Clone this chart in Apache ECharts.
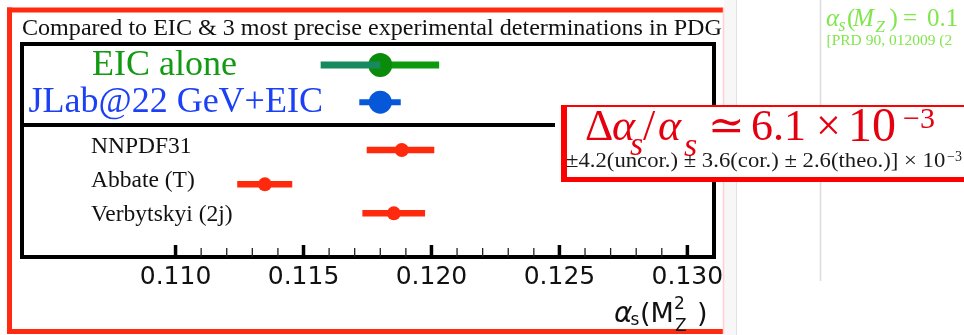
<!DOCTYPE html>
<html><head><meta charset="utf-8">
<script src="https://cdn.jsdelivr.net/npm/echarts@6/dist/echarts.min.js"></script>
<style>html,body{margin:0;padding:0;background:#fff}#c{width:964px;height:335px}</style>
</head><body><div id="c"></div>
<script>
// ---- data ----
const names = ['EIC alone', 'JLab@22 GeV+EIC', 'NNPDF31', 'Abbate (T)', 'Verbytskyi (2j)'];
const central = [0.11800, 0.11800, 0.11884, 0.11349, 0.11853];
const lower   = [0.11567, 0.11718, 0.11747, 0.11241, 0.11730];
const upper   = [0.12030, 0.11880, 0.12011, 0.11456, 0.11975];
const rowPos  = [90.1, 72.7, 50.2, 34.1, 20.5];   // row heights on hidden 0..100 axis (0 = bottom)
const majorTicks = [0.110, 0.115, 0.120, 0.125, 0.130];
const minorTicks = [0.111, 0.112, 0.113, 0.114, 0.116, 0.117, 0.118, 0.119,
                    0.121, 0.122, 0.123, 0.124, 0.126, 0.127, 0.128, 0.129];
const xMin = 0.104, xMax = 0.13104, yMin = 0, yMax = 100;

// ---- styles ----
const SERIF = "'Liberation Serif','DejaVu Serif',serif";
const SANS = "'DejaVu Sans',sans-serif";
const rowStyle = [
  {mk: '#0a8c0a', bar: '#0c9a0c', barLeft: '#168a5e', r: 12, w: 7, font: '36px ' + SERIF, tc: '#139a13', dx: 70, dy: 0},
  {mk: '#0658d9', bar: '#0658d9', r: 11.5, w: 6, font: '36px ' + SERIF, tc: '#1c40f5', dx: 6.5, dy: 0},
  {mk: '#ff2a0d', bar: '#ff2a0d', r: 7, w: 6.5, font: '23.5px ' + SERIF, tc: '#111', dx: 69, dy: -3},
  {mk: '#ff2a0d', bar: '#ff2a0d', r: 7, w: 6.5, font: '23.5px ' + SERIF, tc: '#111', dx: 69, dy: -3.5},
  {mk: '#ff2a0d', bar: '#ff2a0d', r: 7, w: 6.5, font: '23.5px ' + SERIF, tc: '#111', dx: 69, dy: 1.5}
];
const tickStyle = {major: {len: 12, w: 3.5, color: '#000'}, minor: {len: 9, w: 1.3, color: '#222'}};

const seriesData = names.map((n, i) => [central[i], rowPos[i], lower[i], upper[i]]);

function txt(text, x, y, font, fill, extra) {
  return Object.assign({type: 'text', x: x, y: y, z: 120,
    style: {text: text, font: font, fill: fill, verticalAlign: 'middle', align: 'left'}}, extra || {});
}

const RED = '#e5000f';
const GREEN = '#80e64d';
const big = '44px ' + SERIF, bigI = 'italic 44px ' + SERIF, subI = 'italic 34px ' + SERIF;
const gI = 'italic 25px ' + SERIF, gR = '25px ' + SERIF;

const graphics = [
  // right-side page background pieces
  {type: 'rect', z: 1, shape: {x: 724, y: 0, width: 12, height: 335}, style: {fill: '#f7f7f7'}},
  {type: 'line', z: 1, shape: {x1: 736.5, y1: 0, x2: 736.5, y2: 335}, style: {stroke: '#e2e2e2', lineWidth: 1}},
  {type: 'line', z: 1, shape: {x1: 820.5, y1: 0, x2: 820.5, y2: 281}, style: {stroke: '#dcdcdc', lineWidth: 1.5}},
  // outer red frame
  {type: 'line', z: 1, shape: {x1: 7, y1: 10, x2: 723, y2: 10}, style: {stroke: '#ff2a10', lineWidth: 5}},
  {type: 'line', z: 1, shape: {x1: 9.5, y1: 7.5, x2: 9.5, y2: 334}, style: {stroke: '#ff2a10', lineWidth: 5}},
  {type: 'line', z: 1, shape: {x1: 7, y1: 331.5, x2: 723, y2: 331.5}, style: {stroke: '#ff2a10', lineWidth: 5}},
  {type: 'line', z: 1, shape: {x1: 723.5, y1: 7.5, x2: 723.5, y2: 334}, style: {stroke: '#ffd0d0', lineWidth: 1.5}},
  // title
  txt('Compared to EIC & 3 most precise experimental determinations in PDG', 22, 28.6, '24.1px ' + SERIF, '#111'),
  // separator line
  {type: 'line', z: 50, shape: {x1: 22, y1: 125, x2: 555, y2: 125}, style: {stroke: '#000', lineWidth: 4}},
  // red overlay box
  {type: 'rect', z: 100, shape: {x: 561, y: 105, width: 410, height: 77}, style: {fill: '#fff'}},
  {type: 'rect', z: 101, shape: {x: 561, y: 105, width: 6, height: 77}, style: {fill: '#ff0000'}},
  {type: 'rect', z: 101, shape: {x: 561, y: 105, width: 410, height: 2}, style: {fill: '#ff0000'}},
  {type: 'rect', z: 101, shape: {x: 561, y: 177, width: 410, height: 5}, style: {fill: '#ff0000'}},
  txt('Δ', 585, 128.5, big, RED),
  txt('α', 612, 128.5, bigI, RED),
  txt('s', 630, 146, subI, RED),
  txt('/', 643, 128.5, big, RED),
  txt('α', 658, 128.5, bigI, RED),
  txt('s', 684, 147.5, subI, RED),
  txt('≃', 708, 128.5, big, RED),
  txt('6.1', 751, 128.5, big, RED),
  txt('×', 816, 128.5, big, RED),
  txt('10', 848, 128.5, '48px ' + SERIF, RED),
  txt('−3', 903, 120, '30px ' + SERIF, RED),
  txt('±4.2(uncor.) ± 3.6(cor.) ± 2.6(theo.)] × 10', 566, 161.5, '20px ' + SERIF, '#1a1a1a', {scaleX: 1.135}),
  txt('−3', 947, 157, '14px ' + SERIF, '#1a1a1a'),
  // green text at top right
  txt('α', 826, 19, gI, GREEN),
  txt('s', 838.5, 26.5, 'italic 18px ' + SERIF, GREEN),
  txt('(', 847, 19, gR, GREEN),
  txt('M', 853, 19, gI, GREEN),
  txt('Z', 875.5, 27.5, 'italic 17px ' + SERIF, GREEN),
  txt(')', 889.5, 19, gR, GREEN),
  txt('=', 903, 19, gR, GREEN),
  txt('0.1', 927, 19, gR, GREEN),
  txt('[PRD 90, 012009 (2', 826.5, 40.8, '15.5px ' + SERIF, GREEN),
  // axis name  alpha_s(M_Z^2)
  txt('α', 614, 315, 'italic 28px ' + SANS, '#111'),
  txt('s', 630.5, 321, '17px ' + SANS, '#111'),
  txt('(M', 640, 315, '27px ' + SANS, '#111'),
  txt('2', 674, 305, '17px ' + SANS, '#111'),
  txt('Z', 675, 327, '17px ' + SANS, '#111'),
  txt(')', 697, 315, '27px ' + SANS, '#111')
];

const chart = echarts.init(document.getElementById('c'), null, {renderer: 'canvas'});
chart.setOption({
  animation: false,
  backgroundColor: '#fff',
  grid: {left: 22, right: 250, top: 44, bottom: 78, show: true, borderColor: '#000', borderWidth: 4, backgroundColor: 'rgba(0,0,0,0)'},
  xAxis: {type: 'value', min: xMin, max: xMax, position: 'bottom',
     axisLine: {show: false}, splitLine: {show: false}, axisTick: {show: false},
     axisLabel: {show: true, customValues: majorTicks, formatter: v => v.toFixed(3), fontFamily: SANS, fontSize: 25, color: '#111', margin: 8}},
  yAxis: {type: 'value', min: yMin, max: yMax, show: false},
  series: [{
    type: 'custom', z: 60,
    encode: {x: [0, 2, 3], y: 1},
    data: seriesData,
    renderItem: function (params, api) {
      const i = params.dataIndex;
      const s = rowStyle[i];
      const yv = api.value(1);
      const c = api.coord([api.value(0), yv]);
      const lo = api.coord([api.value(2), yv]);
      const hi = api.coord([api.value(3), yv]);
      const cs = params.coordSys;
      const children = [];
      if (s.barLeft) {
        children.push({type: 'line', shape: {x1: c[0], y1: c[1], x2: hi[0], y2: c[1]}, style: {stroke: s.bar, lineWidth: s.w}});
        children.push({type: 'circle', shape: {cx: c[0], cy: c[1], r: s.r}, style: {fill: s.mk}});
        children.push({type: 'line', shape: {x1: lo[0], y1: c[1], x2: c[0], y2: c[1]}, style: {stroke: s.barLeft, lineWidth: s.w}});
      } else {
        children.push({type: 'line', shape: {x1: lo[0], y1: c[1], x2: hi[0], y2: c[1]}, style: {stroke: s.bar, lineWidth: s.w}});
        children.push({type: 'circle', shape: {cx: c[0], cy: c[1], r: s.r}, style: {fill: s.mk}});
      }
      children.push({type: 'text', style: {text: names[i], x: cs.x + s.dx, y: c[1] + s.dy, font: s.font, fill: s.tc, verticalAlign: 'middle', align: 'left'}});
      return {type: 'group', children: children};
    }
  }],
  graphic: graphics
});

// inward axis ticks: positions come from the chart's own x scale
const tickGraphics = [];
[[majorTicks, tickStyle.major], [minorTicks, tickStyle.minor]].forEach(function (pair) {
  pair[0].forEach(function (v) {
    const p = chart.convertToPixel({xAxisIndex: 0, yAxisIndex: 0}, [v, yMin]);
    if (!p) return;
    tickGraphics.push({type: 'rect', z: 110,
      shape: {x: p[0] - pair[1].w / 2, y: p[1] - pair[1].len, width: pair[1].w, height: pair[1].len},
      style: {fill: pair[1].color}});
  });
});
chart.setOption({graphic: graphics.concat(tickGraphics)});
</script>
</body></html>
